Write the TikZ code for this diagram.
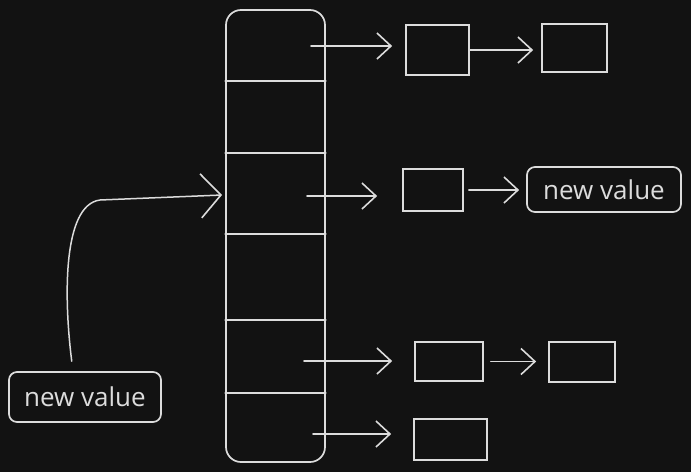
\documentclass[tikz,border=0pt]{standalone}
\usepackage{fontspec}
\setmainfont{Open Sans}
\usetikzlibrary{arrows.meta}
\definecolor{bg}{HTML}{121212}
\definecolor{ink}{HTML}{DCDCDC}
\begin{document}
\begin{tikzpicture}[x=1pt,y=-1pt,
  inkline/.style={draw=ink, line width=1.7pt},
  cellbox/.style={inkline, rectangle, inner sep=0pt},
  valbox/.style={inkline, rectangle, rounded corners=8pt, inner sep=0pt, text=ink, font=\fontsize{26}{30}\selectfont},
  arrowbox/.style={inkline, rectangle, rounded corners=15pt, inner sep=0pt},
  conn/.style={draw=ink, line width=1.6pt, line cap=round, -{Straight Barb[length=14pt,width=26pt,line width=1.6pt]}},
  bigconn/.style={draw=ink, line width=1.5pt, line cap=round, -{Straight Barb[length=20pt,width=44pt,line width=1.6pt]}},
  divider/.style={draw=ink, line width=1.6pt, line cap=round}
]
\useasboundingbox (0,0) rectangle (691,472);
\fill[bg] (0,0) rectangle (691,472);

% array
\node[arrowbox, minimum width=99pt, minimum height=452pt] (arr) at (275.5,236) {};
\draw[divider] (arr.west |- 0,81) -- (arr.east |- 0,81);
\draw[divider] (arr.west |- 0,153) -- (arr.east |- 0,153);
\draw[divider] (arr.west |- 0,234) -- (arr.east |- 0,234);
\draw[divider] (arr.west |- 0,320) -- (arr.east |- 0,320);
\draw[divider] (arr.west |- 0,393) -- (arr.east |- 0,393);

% boxes
\node[cellbox, minimum width=63pt, minimum height=50pt] (a1) at (437.5,50) {};
\node[cellbox, minimum width=65pt, minimum height=48pt] (a2) at (574.5,48) {};
\node[cellbox, minimum width=60pt, minimum height=42pt] (b1) at (433,190) {};
\node[valbox, minimum width=154pt, minimum height=45pt] (b2) at (604,189.5) {new value};
\node[cellbox, minimum width=68pt, minimum height=39pt] (c1) at (449,361.5) {};
\node[cellbox, minimum width=66pt, minimum height=40pt] (c2) at (582,362) {};
\node[cellbox, minimum width=73pt, minimum height=41pt] (d1) at (450.5,439.5) {};
\node[valbox, minimum width=152pt, minimum height=50pt] (lv) at (85,397) {new value};

% start points inside the array
\coordinate (s1) at (311,46);
\coordinate (s2) at (307,196);
\coordinate (s3) at (304,361);
\coordinate (s4) at (313,434);
\coordinate (tgt) at (222,195);

% connectors
\draw[conn, shorten >=13pt] (s1) -- (s1 -| a1.west);
\draw[conn, shorten >=25pt] (s2) -- (s2 -| b1.west);
\draw[conn, shorten >=22pt] (s3) -- (s3 -| c1.west);
\draw[conn, shorten >=22pt] (s4) -- (s4 -| d1.west);
\draw[conn, shorten >=8pt] (a1.east) -- (a1.east -| a2.west);
\draw[conn, shorten <=5pt, shorten >=7pt] (b1.east) -- (b1.east -| b2.west);
\draw[conn, shorten <=7pt, shorten >=12pt] (c1.east) -- (c1.east -| c2.west);
\draw[bigconn, shorten <=10pt] ([xshift=-12pt]lv.north) .. controls (64,300) and (62,205) .. (100,200) -- (tgt);
\end{tikzpicture}
\end{document}
